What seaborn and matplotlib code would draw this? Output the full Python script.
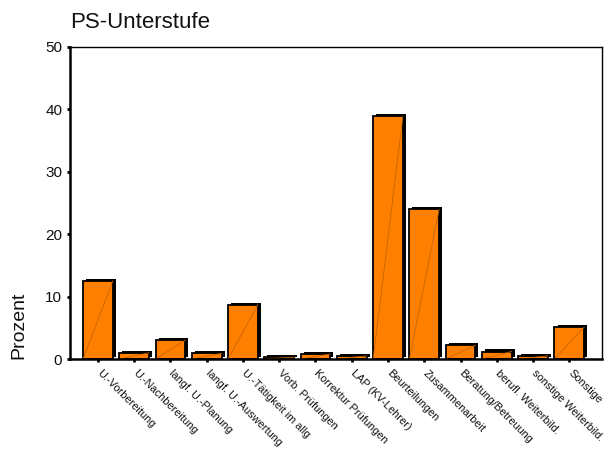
import matplotlib
matplotlib.use("Agg")
import matplotlib.pyplot as plt
import matplotlib.patheffects as pe
import matplotlib.transforms as mtransforms
import seaborn as sns
import pandas as pd

categories = [
    "U.-Vorbereitung", "U.-Nachbereitung", "langf. U.-Planung",
    "langf. U.-Auswertung", "U.-Tätigkeit im allg", "Vorb. Prüfungen",
    "Korrektur Prüfungen", "LAP (KV-Lehrer)", "Beurteilungen",
    "Zusammenarbeit", "Beratung/Betreuung", "berufl. Weiterbild.",
    "sonstige Weiterbild.", "Sonstige",
]
prozent = [12.5, 1.0, 3.0, 0.9, 8.7, 0.3, 0.8, 0.5, 38.9, 24.0, 2.2, 1.2, 0.5, 5.1]
y_ticks = [0, 10, 20, 30, 40, 50]

sns.set_theme(style="white")
plt.rcParams["font.family"] = ["Liberation Sans", "DejaVu Sans"]
plt.rcParams["text.color"] = "#111111"
plt.rcParams["xtick.color"] = "#111111"
plt.rcParams["ytick.color"] = "#111111"
plt.rcParams["axes.labelcolor"] = "#111111"

df = pd.DataFrame({"Kategorie": categories, "Prozent": prozent})

fig = plt.figure(figsize=(6.05, 4.5), dpi=100)
ax = fig.add_axes([0.1157, 0.2022, 0.8793, 0.6934])

sns.barplot(data=df, x="Kategorie", y="Prozent", color="#ff8000",
            saturation=1, width=0.82, edgecolor="black", linewidth=1.3, ax=ax)

# drop shadow and the thin diagonal inside each bar
for p in ax.patches:
    p.set_path_effects([
        pe.SimplePatchShadow(offset=(2.2, 1.5), shadow_rgbFace="black", alpha=1),
        pe.Normal(),
    ])
    x0, y0 = p.get_x(), p.get_y()
    ax.plot([x0, x0 + p.get_width()], [y0, y0 + p.get_height()],
            color="#c86400", lw=0.6, zorder=p.get_zorder() + 0.1)

ax.set_xlim(-0.77, 13.9)
ax.set_ylim(0, 50)
ax.set_yticks(y_ticks)
ax.set_yticklabels([str(v) for v in y_ticks], fontsize=11)
ax.set_xlabel("")
ax.set_xticks(range(len(categories)))
ax.set_xticklabels(categories, rotation=-45, ha="left", va="top",
                   rotation_mode="anchor", fontsize=7.9)

ax.tick_params(axis="both", which="major", direction="out", length=2.5,
               width=2, color="black", bottom=True, left=True)
ax.tick_params(axis="y", pad=3)
ax.tick_params(axis="x", pad=4)

# nudge the slanted category labels a little to the right of their ticks
shift = mtransforms.ScaledTranslation(4 / 100, 0, fig.dpi_scale_trans)
for tick in ax.xaxis.get_major_ticks():
    tick.label1.set_transform(tick.label1.get_transform() + shift)

for side in ["left", "bottom"]:
    ax.spines[side].set_linewidth(1.8)
    ax.spines[side].set_color("black")
for side in ["top", "right"]:
    ax.spines[side].set_linewidth(1.0)
    ax.spines[side].set_color("black")
    ax.spines[side].set_visible(True)

ax.set_ylabel("Prozent", fontsize=14, loc="bottom")
ax.yaxis.set_label_coords(-0.08, 0)

ax.set_title("PS-Unterstufe", loc="left", fontsize=16, pad=14)

fig.savefig("out.png", dpi=100)
